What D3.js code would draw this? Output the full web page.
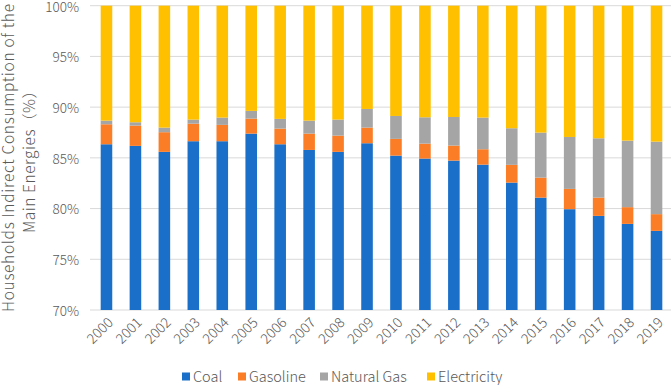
<!DOCTYPE html>
<html>
<head>
<meta charset="utf-8">
<script src="https://cdn.jsdelivr.net/npm/d3@7"></script>
<style>
  html, body { margin: 0; padding: 0; background: #fff; }
  svg { display: block; font-family: "Noto Sans CJK SC", "Noto Sans", sans-serif; }
</style>
</head>
<body>
<div id="chart"></div>
<script>
// ---- data (shares in %) ----
const years = ["2000","2001","2002","2003","2004","2005","2006","2007","2008","2009",
               "2010","2011","2012","2013","2014","2015","2016","2017","2018","2019"];
const coal       = [86.34,86.18,85.59,86.64,86.64,87.39,86.34,85.78,85.59,86.44,
                    85.22,84.93,84.73,84.33,82.56,81.08,79.94,79.28,78.49,77.80];
const gasoline   = [1.97,2.00,1.94,1.73,1.61,1.48,1.54,1.61,1.60,1.54,
                    1.65,1.47,1.48,1.52,1.75,1.97,2.00,1.80,1.65,1.65];
const naturalGas = [0.36,0.33,0.45,0.40,0.72,0.76,0.96,1.28,1.58,1.84,
                    2.26,2.60,2.82,3.12,3.61,4.44,5.12,5.85,6.56,7.15];
const electricity= [11.33,11.49,12.02,11.23,11.03,10.37,11.16,11.33,11.23,10.18,
                    10.87,11.00,10.97,11.03,12.08,12.51,12.94,13.07,13.30,13.40];
const seriesNames = ["Coal","Gasoline","Natural Gas","Electricity"];
const seriesKeys  = ["coal","gasoline","naturalGas","electricity"];
const yTicks = [70, 75, 80, 85, 90, 95, 100];

// ---- setup ----
const width = 671, height = 385;
const margin = {left: 92, right: 0, top: 5.7, bottom: 75};
const colors = ["#1a70c8", "#fb7d26", "#a5a5a5", "#ffc000"];

const table = years.map((y, i) => ({
  year: y, coal: coal[i], gasoline: gasoline[i],
  naturalGas: naturalGas[i], electricity: electricity[i]
}));

const svg = d3.select("#chart").append("svg")
  .attr("width", width).attr("height", height);

const x = d3.scaleBand()
  .domain(years)
  .range([margin.left, width - margin.right])
  .paddingInner(0.6)
  .paddingOuter(0.3);

const y = d3.scaleLinear()
  .domain([70, 100])
  .range([310, margin.top]);

// gridlines
svg.append("g").selectAll("line")
  .data(yTicks)
  .join("line")
  .attr("x1", 90).attr("x2", width)
  .attr("y1", d => y(d)).attr("y2", d => y(d))
  .attr("stroke", "#d9d9d9").attr("stroke-width", 1);

// y tick labels
svg.append("g").selectAll("text")
  .data(yTicks)
  .join("text")
  .attr("x", 79)
  .attr("y", d => y(d) + 1)
  .attr("dy", "0.36em")
  .attr("text-anchor", "end")
  .attr("font-size", 13.5)
  .attr("font-weight", 300)
  .attr("fill", "#595959")
  .text(d => d + "%");

// stacked bars
const stack = d3.stack().keys(seriesKeys);
const layers = stack(table);

svg.append("g").selectAll("g")
  .data(layers)
  .join("g")
  .attr("fill", (d, i) => colors[i])
  .selectAll("rect")
  .data(d => d)
  .join("rect")
  .attr("x", d => x(d.data.year))
  .attr("width", x.bandwidth())
  .attr("y", d => y(Math.min(d[1], 100)))
  .attr("height", d => Math.max(0, y(Math.max(d[0], 70)) - y(Math.min(d[1], 100))));

// x labels, rotated
svg.append("g").selectAll("text")
  .data(years)
  .join("text")
  .attr("transform", d => `translate(${x(d) + x.bandwidth() / 2 + 4},${320}) rotate(-45)`)
  .attr("text-anchor", "end")
  .attr("dy", "0.35em")
  .attr("font-size", 14)
  .attr("font-weight", 300)
  .attr("fill", "#595959")
  .text(d => d);

// y axis title (two lines)
const title = svg.append("text")
  .attr("transform", `translate(0,158) rotate(-90)`)
  .attr("text-anchor", "middle")
  .attr("font-size", 15.5)
  .attr("font-weight", 300)
  .attr("fill", "#595959");
title.append("tspan").attr("x", 0).attr("y", 14)
  .attr("textLength", 308).attr("lengthAdjust", "spacing")
  .text("Households Indirect Consumption of the");
title.append("tspan").attr("x", 0).attr("y", 35)
  .attr("textLength", 150).attr("lengthAdjust", "spacing")
  .text("Main Energies（%）");

// legend
const legendX = [182, 238, 320, 427];
const legend = svg.append("g").selectAll("g")
  .data(seriesNames)
  .join("g")
  .attr("transform", (d, i) => `translate(${legendX[i]},376.5)`);
legend.append("rect")
  .attr("x", 0).attr("y", -4)
  .attr("width", 8).attr("height", 8)
  .attr("fill", (d, i) => colors[i]);
legend.append("text")
  .attr("x", 11)
  .attr("dy", "0.36em")
  .attr("font-size", 14.5)
  .attr("font-weight", 300)
  .attr("fill", "#595959")
  .text(d => d);
</script>
</body>
</html>
